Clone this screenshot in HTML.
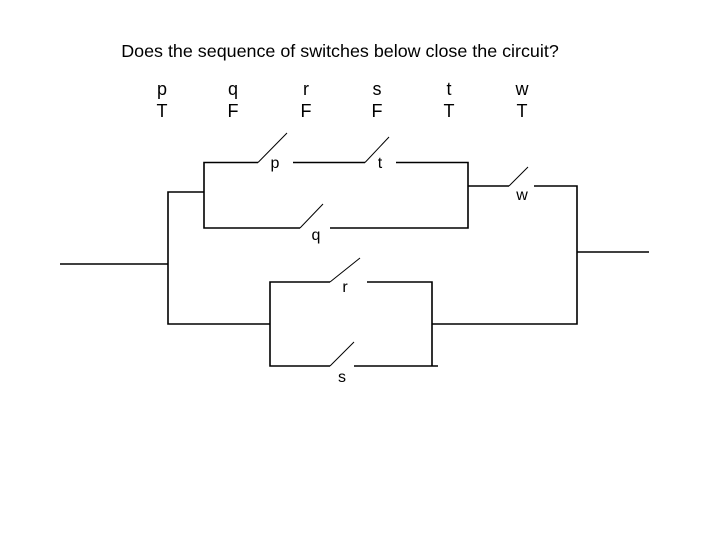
<!DOCTYPE html>
<html><head><meta charset="utf-8"><style>html,body{margin:0;padding:0;background:#fff}svg{display:block}</style></head>
<body>
<svg width="720" height="540" viewBox="0 0 720 540" xmlns="http://www.w3.org/2000/svg" font-family="Liberation Sans, Arial, sans-serif" fill="#000">
<text x="340" y="57" font-size="17.9" text-anchor="middle">Does the sequence of switches below close the circuit?</text>
<g font-size="18" text-anchor="middle">
<text x="162" y="95">p</text><text x="162" y="117">T</text>
<text x="233" y="95">q</text><text x="233" y="117">F</text>
<text x="306" y="95">r</text><text x="306" y="117">F</text>
<text x="377" y="95">s</text><text x="377" y="117">F</text>
<text x="449" y="95">t</text><text x="449" y="117">T</text>
<text x="522" y="95">w</text><text x="522" y="117">T</text>
</g>
<g stroke="#000" stroke-width="1.6" fill="none">
<polyline points="258,162.5 204,162.5 204,228 300,228"/>
<line x1="258" y1="162.5" x2="287" y2="133" stroke-width="1"/>
<line x1="293" y1="162.5" x2="365" y2="162.5"/>
<line x1="365" y1="162.5" x2="389" y2="137" stroke-width="1"/>
<polyline points="396,162.5 468,162.5 468,228 330,228"/>
<line x1="300" y1="228" x2="323" y2="204" stroke-width="1"/>
<polyline points="204,192 168,192 168,324 270,324"/>
<line x1="60" y1="264" x2="168" y2="264"/>
<polyline points="330,282 270,282 270,366 330,366"/>
<line x1="330" y1="282" x2="360" y2="258" stroke-width="1"/>
<line x1="330" y1="366" x2="354" y2="342" stroke-width="1"/>
<polyline points="367,282 432,282 432,366"/>
<line x1="354" y1="366" x2="438" y2="366"/>
<polyline points="432,324 577,324 577,186 534,186"/>
<line x1="468" y1="186" x2="509" y2="186"/>
<line x1="509" y1="186" x2="528" y2="167" stroke-width="1"/>
<line x1="577" y1="252" x2="649" y2="252"/>
</g>
<g font-size="16" text-anchor="middle">
<text x="275" y="168">p</text>
<text x="380" y="168">t</text>
<text x="316" y="240">q</text>
<text x="345" y="292">r</text>
<text x="342" y="382">s</text>
<text x="522" y="200">w</text>
</g>
</svg>
</body></html>
